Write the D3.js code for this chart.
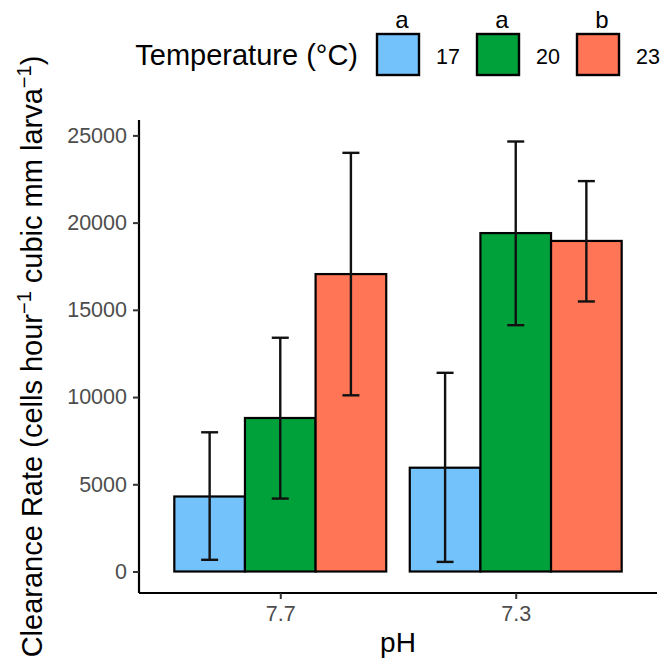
<!DOCTYPE html>
<html lang="en">
<head>
<meta charset="utf-8">
<title>Clearance Rate by pH and Temperature</title>
<script src="https://cdnjs.cloudflare.com/ajax/libs/d3/7.8.5/d3.min.js"></script>
<style>
  body { margin: 0; background: #ffffff; }
  svg text { font-family: "Liberation Sans", Arial, Helvetica, sans-serif; }
</style>
</head>
<body>
<div id="chart"></div>
<script>
// data
var phLevels = ["7.7", "7.3"];
var temps = ["17", "20", "23"];
var letters = ["a", "a", "b"];
var mean17 = [4300, 5950];
var lower17 = [670, 550];
var upper17 = [7980, 11390];
var mean20 = [8800, 19400];
var lower20 = [4180, 14120];
var upper20 = [13400, 24650];
var mean23 = [17050, 18950];
var lower23 = [10100, 15480];
var upper23 = [24000, 22380];
var yTicks = [0, 5000, 10000, 15000, 20000, 25000];
var fills = ["#74c2fb", "#00a03b", "#ff7556"];

var means = [mean17, mean20, mean23];
var lowers = [lower17, lower20, lower23];
var uppers = [upper17, upper20, upper23];

var rows = [];
temps.forEach(function(t, ti) {
  phLevels.forEach(function(p, pi) {
    rows.push({ph: p, temp: t, mean: means[ti][pi], lo: lowers[ti][pi], hi: uppers[ti][pi], fill: fills[ti]});
  });
});

var W = 662, H = 660;
var pLeft = 139, pRight = 657, pTop = 120, pBottom = 593;

var svg = d3.select("#chart").append("svg")
  .attr("width", W).attr("height", H);

var yMax = d3.max(rows, function(d) { return d.hi; });
var y = d3.scaleLinear()
  .domain([-0.05 * yMax, 1.05 * yMax])
  .range([pBottom, pTop]);

var x = d3.scalePoint()
  .domain(phLevels)
  .range([pLeft, pRight])
  .padding(0.6);

var step = x.step();
var xs = d3.scaleBand()
  .domain(temps)
  .range([-0.45 * step, 0.45 * step]);
var bw = xs.bandwidth();

// bars
svg.append("g").selectAll("rect")
  .data(rows).enter().append("rect")
  .attr("x", function(d) { return x(d.ph) + xs(d.temp); })
  .attr("y", function(d) { return y(d.mean); })
  .attr("width", bw)
  .attr("height", function(d) { return y(0) - y(d.mean); })
  .attr("fill", function(d) { return d.fill; })
  .attr("stroke", "#000")
  .attr("stroke-width", 2.2);

// error bars
var cap = 8.5;
var eb = svg.append("g").attr("stroke", "#111").attr("stroke-width", 2.4);
rows.forEach(function(d) {
  var cx = x(d.ph) + xs(d.temp) + bw / 2;
  eb.append("line").attr("x1", cx).attr("x2", cx).attr("y1", y(d.lo)).attr("y2", y(d.hi));
  eb.append("line").attr("x1", cx - cap).attr("x2", cx + cap).attr("y1", y(d.lo)).attr("y2", y(d.lo));
  eb.append("line").attr("x1", cx - cap).attr("x2", cx + cap).attr("y1", y(d.hi)).attr("y2", y(d.hi));
});

// axes
var yAxis = svg.append("g")
  .attr("transform", "translate(" + pLeft + ",0)")
  .call(d3.axisLeft(y).tickValues(yTicks).tickSize(6).tickPadding(6).tickFormat(d3.format("d")));
yAxis.select(".domain").attr("d", "M0," + pTop + "V" + pBottom).attr("stroke", "#000").attr("stroke-width", 2.2);
yAxis.selectAll(".tick line").attr("stroke", "#333").attr("stroke-width", 2);
yAxis.selectAll(".tick text").attr("fill", "#4d4d4d").attr("font-size", 21.5);

var xAxis = svg.append("g")
  .attr("transform", "translate(0," + pBottom + ")")
  .call(d3.axisBottom(x).tickSize(6).tickPadding(7));
xAxis.select(".domain").attr("d", "M" + pLeft + ",0H" + pRight).attr("stroke", "#000").attr("stroke-width", 2.2);
xAxis.selectAll(".tick line").attr("stroke", "#333").attr("stroke-width", 2);
xAxis.selectAll(".tick text").attr("fill", "#4d4d4d").attr("font-size", 21.5);

// axis titles
svg.append("text")
  .attr("x", (pLeft + pRight) / 2).attr("y", 652)
  .attr("text-anchor", "middle").attr("font-size", 28).attr("fill", "#000")
  .text("pH");

var yt = svg.append("text")
  .attr("transform", "translate(42," + ((pTop + pBottom) / 2) + ") rotate(-90)")
  .attr("text-anchor", "middle").attr("font-size", 29).attr("fill", "#000");
yt.append("tspan").text("Clearance Rate (cells hour");
yt.append("tspan").attr("dy", -11).attr("font-size", 20).text("\u22121");
yt.append("tspan").attr("dy", 11).text(" cubic mm larva");
yt.append("tspan").attr("dy", -11).attr("font-size", 20).text("\u22121");
yt.append("tspan").attr("dy", 11).text(")");

// legend
var legend = svg.append("g");
legend.append("text")
  .attr("x", 358).attr("y", 65)
  .attr("text-anchor", "end").attr("font-size", 29).attr("fill", "#000")
  .text("Temperature (\u00b0C)");

var keyX = [377, 477, 577];
temps.forEach(function(t, i) {
  legend.append("rect")
    .attr("x", keyX[i]).attr("y", 34)
    .attr("width", 42).attr("height", 41)
    .attr("fill", fills[i]).attr("stroke", "#000").attr("stroke-width", 2.4);
  legend.append("text")
    .attr("x", keyX[i] + 59).attr("y", 64)
    .attr("font-size", 21.5).attr("fill", "#000")
    .text(t);
  legend.append("text")
    .attr("x", keyX[i] + 25).attr("y", 28)
    .attr("text-anchor", "middle").attr("font-size", 24).attr("fill", "#000")
    .text(letters[i]);
});
</script>
</body>
</html>
